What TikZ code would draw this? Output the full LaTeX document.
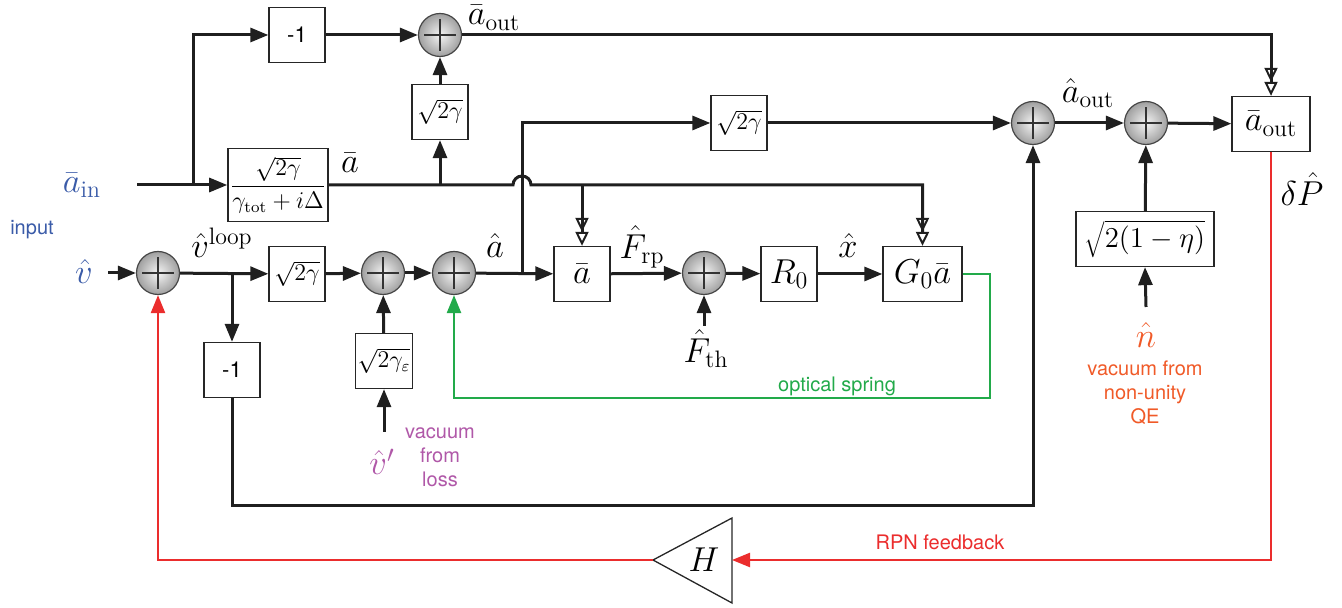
\documentclass[tikz,border=0pt]{standalone}
\usepackage{fontspec}
\setsansfont{TeX Gyre Heros}
\usetikzlibrary{arrows.meta,calc}
\definecolor{cblue}{RGB}{58,91,168}
\definecolor{cpurple}{RGB}{176,88,168}
\definecolor{corange}{RGB}{240,90,40}
\definecolor{cgreen}{RGB}{34,170,74}
\definecolor{cred}{RGB}{235,45,45}
\newcommand\fsz[1]{\fontsize{#1}{#1}\selectfont}
\tikzset{
  blk/.style={draw=black!85, line width=0.65pt, minimum width=28pt, minimum height=27.5pt, inner sep=1pt, fill=white},
  sumj/.style={circle, minimum size=21.5pt, inner sep=0pt, draw=gray!55!black, line width=0.6pt,
    inner color=gray!8, outer color=gray!75,
    path picture={\draw[line width=1pt, black!80]
      ($(path picture bounding box.center)+(-8pt,0pt)$) -- ++(16pt,0pt)
      ($(path picture bounding box.center)+(0pt,-8pt)$) -- ++(0pt,16pt);}},
  ln/.style={line width=1.5pt, draw=black!88},
  arr/.style={ln, -{Triangle[length=9pt,width=7pt]}},
  darr/.style={ln, -{Triangle[open,length=7pt,width=6.5pt,line width=1pt]Triangle[open,length=7pt,width=6.5pt,line width=1pt]}},
  arrG/.style={line width=1.2pt, draw=cgreen, -{Triangle[length=9pt,width=7pt]}},
  arrR/.style={line width=1.2pt, draw=cred, -{Triangle[length=9pt,width=7pt]}},
  mlab/.style={font=\fsz{17}, inner sep=0pt},
  slab/.style={font=\sffamily\fontsize{10}{12}\selectfont, inner sep=0pt, align=center},
}
\begin{document}
\begin{tikzpicture}[x=0.5pt,y=-0.5pt]
\useasboundingbox (0,0) rectangle (1342,608);

% blocks
\node[blk, font=\sffamily\fsz{11}] (m1t) at (297,35) {-1};
\node[sumj] (sT) at (440,35) {};
\node[blk, font=\fsz{12}] (sq1) at (440,112) {$\sqrt{2\gamma}$};
\node[blk, font=\fsz{12}, minimum width=50pt, minimum height=36.5pt] (frac) at (278,185)
  {$\displaystyle\frac{\sqrt{2\gamma}}{\gamma_{\mathrm{tot}}+i\Delta}$};
\node[blk, font=\fsz{12}] (sq2) at (739,123) {$\sqrt{2\gamma}$};
\node[sumj] (sO1) at (1033,123) {};
\node[sumj] (sO2) at (1146,123) {};
\node[blk, font=\fsz{17}, minimum width=39pt] (aoB) at (1271,124) {$\bar a_{\mathrm{out}}$};
\node[blk, font=\fsz{14.5}, minimum width=69pt] (sqEta) at (1145,239) {$\sqrt{2(1-\eta)}$};

\node[sumj] (s1) at (158,273) {};
\node[blk, font=\fsz{12}] (sqL) at (297,274) {$\sqrt{2\gamma}$};
\node[sumj] (s2) at (383,273) {};
\node[sumj] (s3) at (454,273) {};
\node[blk, font=\fsz{17}] (aB) at (582,274) {$\bar a$};
\node[sumj] (sF) at (704,273) {};
\node[blk, font=\fsz{17}] (R0) at (789,274) {$R_0$};
\node[blk, font=\fsz{17}, minimum width=39.5pt] (G0) at (922.5,274) {$G_0\bar a$};
\node[blk, font=\sffamily\fsz{11}] (m1l) at (232,370) {-1};
\node[blk, font=\fsz{12}] (sqE) at (384,361) {$\sqrt{2\gamma_\varepsilon}$};

% H amplifier
\coordinate (Ht) at (653,560);
\coordinate (Hu) at (732,518);
\coordinate (Hd) at (732,603);
\coordinate (Hr) at (732,560);
\draw[line width=0.65pt, black!85] (Ht) -- (Hu) -- (Hd) -- cycle;
\node[font=\fsz{18}] (H) at (704,560) {$H$};

% labels
\node[mlab] (laout) at (494,18) {$\bar a_{\mathrm{out}}$};
\node[mlab] (labar) at (350,163) {$\bar a$};
\node[mlab, text=cblue] (lain) at (82,185) {$\bar a_{\mathrm{in}}$};
\node[slab, text=cblue] (linput) at (32,230) {input};
\node[mlab, text=cblue] (lv) at (84,272) {$\hat v$};
\node[mlab] (lvloop) at (222,243) {$\hat v^{\mathrm{loop}}$};
\node[mlab] (lahat) at (495,246) {$\hat a$};
\node[mlab] (lFrp) at (642,247) {$\hat F_{\mathrm{rp}}$};
\node[mlab] (lx) at (848,246) {$\hat x$};
\node[mlab] (lFth) at (706,349) {$\hat F_{\mathrm{th}}$};
\node[mlab, text=cpurple] (lvp) at (382,462) {$\hat v'$};
\node[slab, text=cpurple] (lvac) at (440,457) {vacuum\\from\\loss};
\node[slab, text=cgreen] (lopt) at (837,386) {optical spring};
\node[mlab] (laout2) at (1088,93) {$\hat a_{\mathrm{out}}$};
\node[mlab] (ldP) at (1302,189) {$\delta\hat P$};
\node[mlab, text=corange] (lnh) at (1146,335) {$\hat n$};
\node[slab, text=corange] (lvac2) at (1145,393) {vacuum from\\non-unity\\QE};
\node[slab, text=cred] (lrpn) at (940,542) {RPN feedback};

% connectors
\coordinate (ain) at (137,185);
\coordinate (brA) at (193,185);
\draw[arr] (ain) -- (frac.west);
\draw[arr] (brA) |- (m1t.west);
\draw[arr] (m1t) -- (sT);
\draw[arr] (sq1) -- (sT);
\draw[darr] (sT) -| (aoB.north);

\coordinate (hop) at (513,185);
\draw[darr] (frac.east) -- (hop) arc[start angle=180, end angle=360, radius=9] -| (G0.north);
\draw[arr] (sq1.south |- frac.east) -- (sq1.south);
\draw[darr] (aB.north |- frac.east) -- (aB.north);

\coordinate (vin) at (108,273);
\draw[arr] (vin) -- (s1);
\draw[arr] (s1) -- (sqL);
\draw[arr] (m1l.north |- s1) -- (m1l.north);
\draw[arr] (sqL) -- (s2);
\draw[arr] (s2) -- (s3);
\draw[arr] (sqE) -- (s2);
\coordinate (vpin) at (384,432);
\draw[arr] (vpin) -- (sqE.south);
\draw[arr] (s3) -- (aB);
\coordinate (brH) at (522,273);
\draw[arr] (brH) |- (sq2.west);
\draw[arr] (sq2) -- (sO1);
\draw[arr] (aB) -- (sF);
\draw[arr] (sF) -- (R0);
\draw[arr] (R0) -- (G0);
\coordinate (fth) at (704,326);
\draw[arr] (fth) -- (sF);

\coordinate (gC) at (990,398);
\draw[arrG] (G0.east) -| (gC) -| (s3.south);

\coordinate (bC) at (232,505);
\draw[arr] (m1l.south) -- (bC) -| (sO1.south);

\draw[arr] (sO1) -- (sO2);
\draw[arr] (sqEta) -- (sO2);
\coordinate (nin) at (1146,307);
\draw[arr] (nin) -- (sqEta.south);
\draw[arr] (sO2) -- (aoB);

\draw[arrR] (aoB.south) |- (Hr);
\draw[arrR] (Ht) -| (s1.south);
\end{tikzpicture}
\end{document}
